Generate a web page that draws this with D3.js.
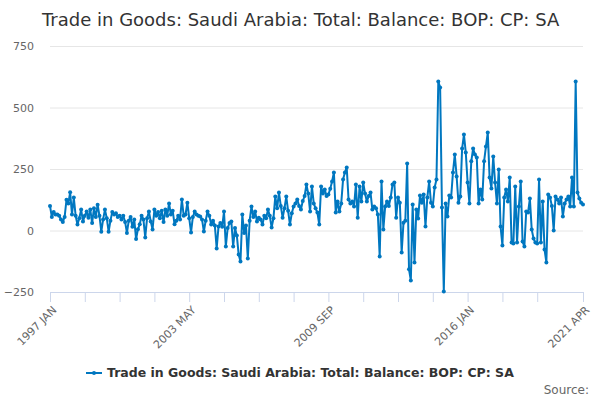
<!DOCTYPE html>
<html>
<head>
<meta charset="utf-8">
<script src="https://cdn.jsdelivr.net/npm/d3@7"></script>
<style>
  body { margin: 0; background: #fff; }
  svg { font-family: "DejaVu Sans", Verdana, sans-serif; }
</style>
</head>
<body>
<div id="chart"></div>
<script>
'use strict';

const seriesName = 'Trade in Goods: Saudi Arabia: Total: Balance: BOP: CP: SA';
const startYear = 1997;
const monthNames = ['JAN', 'FEB', 'MAR', 'APR', 'MAY', 'JUN', 'JUL', 'AUG', 'SEP', 'OCT', 'NOV', 'DEC'];

// monthly values, one row per year
const v1997 = [100, 55, 75, 65, 65, 60, 45, 35, 55, 125, 110, 155];
const v1998 = [65, 134, 60, 24, 50, 85, 37, 60, 77, 52, 85, 30];
const v1999 = [90, 55, 105, 60, -5, 45, 85, 50, -5, 40, 75, 65];
const v2000 = [70, 55, 60, 45, 60, 35, -10, 40, 55, 15, 45, -35];
const v2001 = [5, 25, 60, 45, -28, 50, 77, 37, 4, 85, 60, 75];
const v2002 = [50, 80, 35, 85, 60, 110, 65, 80, 25, 40, 60, 45];
const v2003 = [126, 60, 65, 113, 50, -8, 55, 77, 65, 60, 57, 45];
const v2004 = [-4, 40, 77, 60, 24, 40, 20, -73, 16, 30, 15, 77];
const v2005 = [-65, 10, 30, 37, -65, 10, -20, -98, -126, 65, -10, 20];
const v2006 = [-114, 40, 98, 55, 77, 37, 52, 45, 24, 60, 50, 85];
const v2007 = [60, 12, 50, 138, 90, 154, 100, 52, 90, 138, 80, 24];
const v2008 = [70, 98, 110, 126, 100, 85, 120, 140, 187, 150, 77, 179];
const v2009 = [110, 90, 73, 24, 179, 150, 167, 140, 146, 170, 199, 236];
const v2010 = [73, 118, 77, 110, 207, 236, 256, 126, 110, 118, 98, 187];
const v2011 = [52, 179, 118, 195, 150, 118, 140, 154, 85, 98, 90, 65];
const v2012 = [-106, 199, 4, 98, 118, 100, 134, 187, 195, 52, 134, 113];
const v2013 = [-89, 32, 40, 272, -158, -203, 106, -130, 85, 49, 142, 113];
const v2014 = [146, 16, 134, 199, 113, 98, 175, 207, 606, 581, 94, -248];
const v2015 = [110, 57, 142, 134, 236, 309, 220, 113, 138, 333, 390, 317];
const v2016 = [195, 110, 281, 333, 309, 297, 110, 167, 126, 281, 341, 398];
const v2017 = [215, 171, 301, 195, 110, 248, 16, -61, 134, 167, 118, 215];
const v2018 = [-49, -53, 179, -49, 98, 199, -45, -65, 77, 73, 130, 4];
const v2019 = [-33, -49, -53, 207, -49, 118, -77, -130, 146, 134, 100, 0];
const v2020 = [138, 126, 110, 134, 57, 110, 126, 138, 98, 215, 98, 606];
const v2021 = [154, 130, 113, 106];

const yTicks = [-250, 0, 250, 500, 750];
const tickEvery = 19;      // a tick mark every 19 months
const labelEvery = 76;     // a label every 4th tick

const values = [].concat(v1997, v1998, v1999, v2000, v2001, v2002, v2003, v2004,
    v2005, v2006, v2007, v2008, v2009, v2010, v2011, v2012, v2013, v2014,
    v2015, v2016, v2017, v2018, v2019, v2020, v2021);

const data = values.map((v, i) => ({
    i: i,
    label: (startYear + Math.floor(i / 12)) + ' ' + monthNames[i % 12],
    value: v
}));

const width = 600, height = 400;
const margin = {top: 46, right: 17, bottom: 108, left: 50};
const lastIndex = data.length - 1;

const svg = d3.select('#chart').append('svg')
    .attr('width', width)
    .attr('height', height);

const x = d3.scaleLinear()
    .domain([0, lastIndex])
    .range([margin.left, width - margin.right]);

const y = d3.scaleLinear()
    .domain([-250, 750])
    .range([height - margin.bottom, margin.top]);

// title
svg.append('text')
    .attr('x', 42)
    .attr('y', 26)
    .style('font-size', '18px')
    .style('fill', '#333')
    .text(seriesName);

// grid + y labels
const yAxis = svg.append('g')
    .attr('transform', 'translate(' + margin.left + ',0)')
    .call(d3.axisLeft(y).tickValues(yTicks).tickSize(-(width - margin.left - margin.right)).tickPadding(16));
yAxis.select('.domain').remove();
yAxis.selectAll('.tick line').attr('stroke', '#e6e6e6');
yAxis.selectAll('.tick text')
    .style('font-size', '11px')
    .style('fill', '#666')
    .style('font-family', '"DejaVu Sans", Verdana, sans-serif');

// x axis
let xTickVals = d3.range(0, lastIndex, tickEvery).filter(t => t <= lastIndex - tickEvery);
xTickVals.push(lastIndex);
const xAxis = svg.append('g')
    .attr('transform', 'translate(0,' + y(-250) + ')')
    .call(d3.axisBottom(x).tickValues(xTickVals).tickSize(10).tickSizeOuter(0)
        .tickFormat(t => (t % labelEvery === 0 || t === lastIndex) ? data[t].label : ''));
xAxis.select('.domain').attr('stroke', '#ccd6eb');
xAxis.selectAll('.tick line').attr('stroke', '#ccd6eb');
xAxis.selectAll('.tick text')
    .style('font-size', '11px')
    .style('fill', '#666')
    .style('font-family', '"DejaVu Sans", Verdana, sans-serif')
    .attr('text-anchor', 'end')
    .attr('y', 0)
    .attr('dy', '0.35em')
    .attr('transform', 'translate(4,16) rotate(-45)');

// line
const line = d3.line()
    .x(d => x(d.i))
    .y(d => y(d.value));

svg.append('path')
    .datum(data)
    .attr('fill', 'none')
    .attr('stroke', '#0077c0')
    .attr('stroke-width', 2)
    .attr('stroke-linejoin', 'round')
    .attr('d', line);

svg.append('g')
    .selectAll('circle')
    .data(data)
    .join('circle')
    .attr('cx', d => x(d.i))
    .attr('cy', d => y(d.value))
    .attr('r', 2)
    .attr('fill', '#0077c0');

// legend
const legend = svg.append('g')
    .attr('transform', 'translate(86,373)');
legend.append('line')
    .attr('x1', 0).attr('x2', 16)
    .attr('y1', 0).attr('y2', 0)
    .attr('stroke', '#0077c0')
    .attr('stroke-width', 2);
legend.append('circle')
    .attr('cx', 8).attr('cy', 0).attr('r', 2)
    .attr('fill', '#0077c0');
legend.append('text')
    .attr('x', 21)
    .attr('y', 0)
    .attr('dy', '0.35em')
    .style('font-size', '12.5px')
    .style('font-weight', 'bold')
    .style('fill', '#333')
    .text(seriesName);

// credit
svg.append('text')
    .attr('x', 589)
    .attr('y', 394)
    .attr('text-anchor', 'end')
    .style('font-size', '12px')
    .style('fill', '#666')
    .text('Source:');
</script>
</body>
</html>
